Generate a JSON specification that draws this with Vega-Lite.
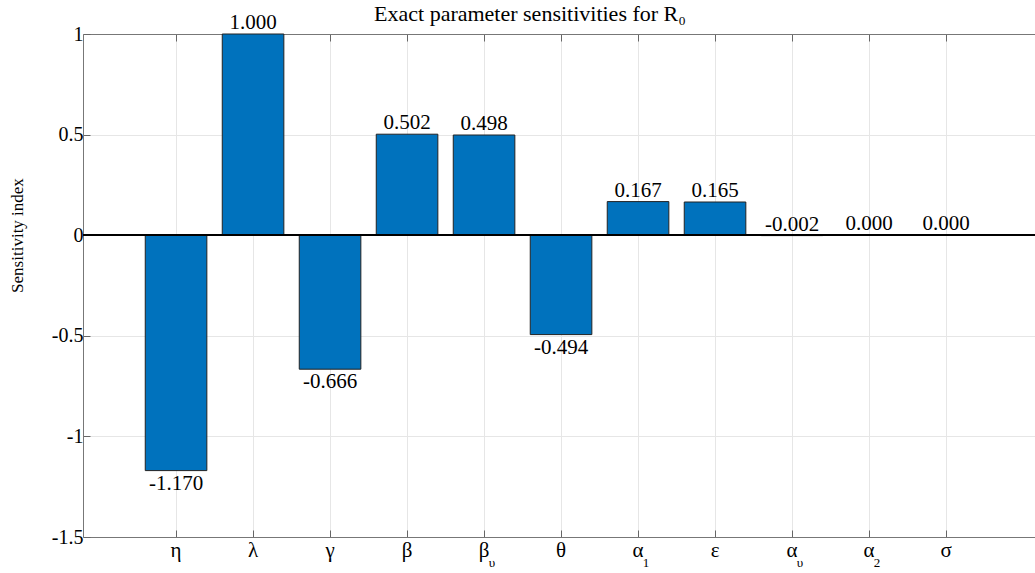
{
  "$schema": "https://vega.github.io/schema/vega-lite/v6.json",
  "width": 952,
  "height": 503,
  "autosize": "none",
  "padding": {"left": 83, "top": 34, "right": 0, "bottom": 36},
  "background": "white",
  "config": {
    "font": "Liberation Serif",
    "locale": {"number": {"decimal": ".", "thousands": ",", "grouping": [3], "currency": ["$", ""], "minus": "-"}},
    "view": {"stroke": null}
  },
  "title": {
    "text": "Exact parameter sensitivities for R₀",
    "font": "Liberation Serif",
    "fontSize": 22,
    "fontWeight": "normal",
    "color": "#000000",
    "frame": "group",
    "anchor": "middle",
    "dx": -29,
    "dy": 22,
    "offset": 8
  },
  "data": {
    "values": [
      {"p": "η", "sub": "", "v": -1.170},
      {"p": "λ", "sub": "", "v": 1.000},
      {"p": "γ", "sub": "", "v": -0.666},
      {"p": "β", "sub": "", "v": 0.502},
      {"p": "βυ", "sub": "υ", "v": 0.498},
      {"p": "θ", "sub": "", "v": -0.494},
      {"p": "α1", "sub": "1", "v": 0.167},
      {"p": "ε", "sub": "", "v": 0.165},
      {"p": "αυ", "sub": "υ", "v": -0.002},
      {"p": "α2", "sub": "2", "v": 0.000},
      {"p": "σ", "sub": "", "v": 0.000}
    ]
  },
  "layer": [
    {
      "mark": {"type": "bar", "color": "#0072BD", "stroke": "#222222", "strokeWidth": 1},
      "encoding": {
        "x": {
          "field": "p", "type": "nominal", "sort": null,
          "scale": {"paddingInner": 0.2, "paddingOuter": 0.782, "align": 0.517},
          "axis": {
            "orient": "bottom", "title": null, "labelAngle": 0,
            "labelExpr": "substring(datum.label, 0, 1)",
            "labelFont": "Liberation Serif", "labelFontSize": 21, "labelColor": "#000000",
            "labelPadding": 9, "labelBaseline": "top",
            "tickSize": -7, "tickColor": "#666666", "bandPosition": 0.5,
            "domainColor": "#777777", "grid": true, "gridColor": "#e6e6e6"
          }
        },
        "y": {
          "field": "v", "type": "quantitative",
          "scale": {"domain": [-1.5, 1], "nice": false},
          "axis": {
            "values": [-1.5, -1, -0.5, 0, 0.5, 1], "format": "~g",
            "title": "Sensitivity index", "titleFont": "Liberation Serif", "titleFontSize": 17,
            "titleFontWeight": "normal", "titleColor": "#000000",
            "titleX": -66, "titleY": 201, "titleAlign": "center", "titleBaseline": "middle", "titleAngle": -90,
            "labelFont": "Liberation Serif", "labelFontSize": 20, "labelColor": "#000000",
            "labelPadding": 7, "tickSize": -7, "tickColor": "#666666",
            "domainColor": "#777777", "grid": true, "gridColor": "#e6e6e6"
          }
        }
      }
    },
    {
      "mark": {"type": "rule", "color": "#000000", "strokeWidth": 1.2},
      "encoding": {"y": {"datum": 0}}
    },
    {
      "transform": [{"filter": "datum.v >= -0.01"}],
      "mark": {"type": "text", "baseline": "bottom", "dy": -1, "fontSize": 21, "color": "#000000"},
      "encoding": {
        "x": {
          "field": "p", "type": "nominal", "sort": null,
          "axis": {"orient": "top", "labels": false, "title": null, "domain": true, "domainColor": "#777777", "grid": false, "tickSize": -7, "tickColor": "#666666", "bandPosition": 0.5}
        },
        "y": {"field": "v", "type": "quantitative"},
        "text": {"field": "v", "type": "quantitative", "format": ".3f"}
      }
    },
    {
      "transform": [{"filter": "datum.v < -0.01"}],
      "mark": {"type": "text", "baseline": "top", "dy": 2, "fontSize": 21, "color": "#000000"},
      "encoding": {
        "x": {"field": "p", "type": "nominal", "sort": null, "axis": null},
        "y": {"field": "v", "type": "quantitative"},
        "text": {"field": "v", "type": "quantitative", "format": ".3f"}
      }
    },
    {
      "transform": [{"filter": "datum.sub != ''"}],
      "mark": {"type": "text", "baseline": "middle", "align": "center", "dx": 8, "dy": 26, "fontSize": 13, "color": "#000000"},
      "encoding": {
        "x": {"field": "p", "type": "nominal", "sort": null, "axis": null},
        "y": {"datum": -1.5},
        "text": {"field": "sub"}
      }
    }
  ],
  "resolve": {"axis": {"x": "independent"}}
}
